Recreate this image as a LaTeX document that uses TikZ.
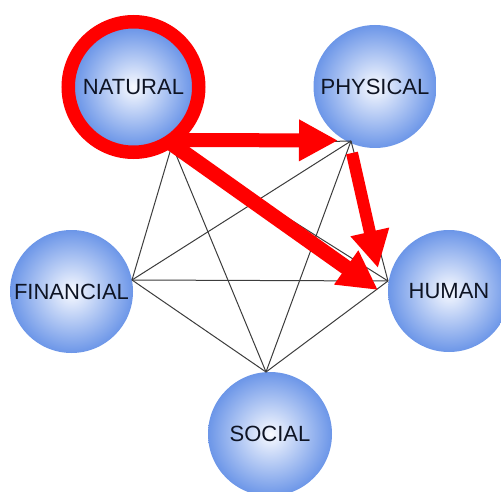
\documentclass[tikz,border=0pt]{standalone}
\usepackage{fontspec}
\setmainfont{Liberation Sans}
\usetikzlibrary{arrows.meta}
\definecolor{capblue}{RGB}{108,150,232}
\definecolor{capcore}{RGB}{248,250,255}
\definecolor{captext}{RGB}{14,20,36}
\definecolor{linkgray}{RGB}{60,60,60}
\definecolor{flowred}{RGB}{255,0,0}
\begin{document}
\begin{tikzpicture}[x=1pt,y=-1pt,
  capital/.style={circle, inner sep=0pt, minimum size=#1,
    shade, shading=radial, inner color=capcore, outer color=capblue,
    text=captext, font=\fontsize{22}{24}\selectfont},
  link/.style={draw=linkgray, line width=1pt},
  flow/.style={draw=flowred, line width=#1},
  bighead/.style={-{Triangle[width=39pt,length=39pt]}}]
  \useasboundingbox (0,0) rectangle (501,492);

  % the five capitals
  \node[capital=118pt] (natural)   at (133.5,87)  {NATURAL};
  \node[capital=123pt] (physical)  at (375,86.5)  {PHYSICAL};
  \node[capital=123pt] (financial) at (71.5,291.5){FINANCIAL};
  \node[capital=122pt] (human)     at (449,291)   {HUMAN};
  \node[capital=124pt] (social)    at (270,434)   {SOCIAL};

  % meeting points of the links, just outside each circle
  \coordinate (vN) at (172,145);
  \coordinate (vP) at (351,141);
  \coordinate (vF) at (132,280);
  \coordinate (vH) at (388,281);
  \coordinate (vS) at (266,372);

  % every capital linked with every other
  \foreach \a/\b in {vN/vP,vN/vF,vN/vH,vN/vS,vP/vF,vP/vH,vP/vS,vF/vH,vF/vS,vH/vS}
    \draw[link] (\a) -- (\b);

  % highlight ring round NATURAL
  \draw[flowred, line width=13.5pt] (natural.center) circle (65.25pt);

  % flows out of NATURAL
  \coordinate (aStart)  at (180,140);
  \coordinate (aEnd)    at (338,140.5);
  \coordinate (dStart)  at (172,144);
  \coordinate (dEnd)    at (378,290);
  \coordinate (pStart)  at (352,153);
  \coordinate (pEnd)    at (378,268);
  \draw[flow=14pt, bighead] (aStart) -- (aEnd);
  \draw[flow=15pt, bighead] (dStart) -- (dEnd);
  \draw[flow=12pt, -{Triangle[width=37pt,length=37pt]}] (pStart) -- (pEnd);
\end{tikzpicture}
\end{document}
